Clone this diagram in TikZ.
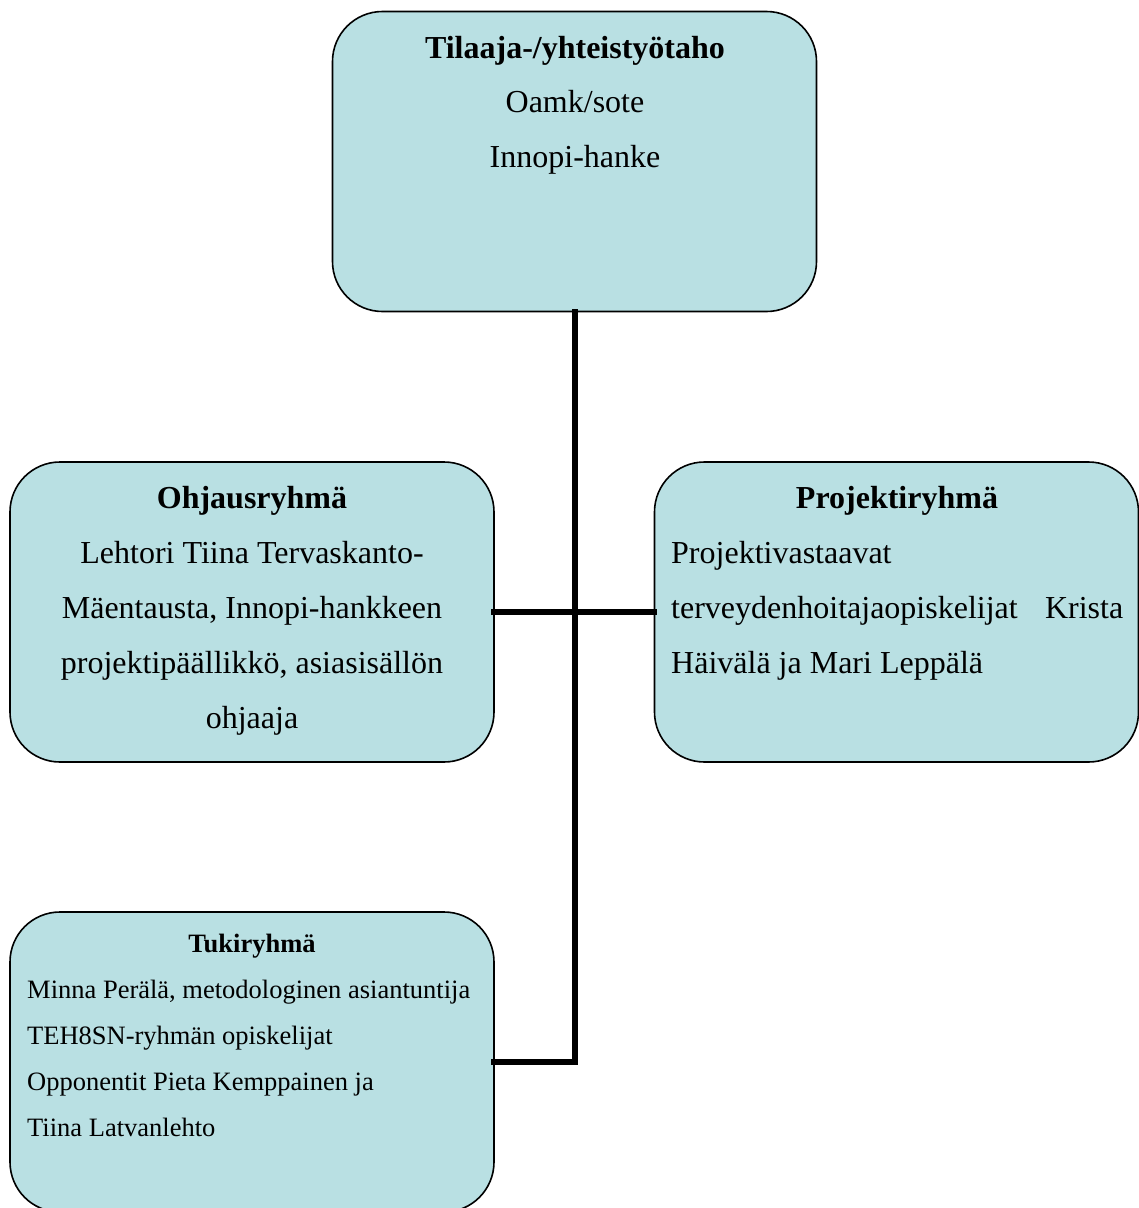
\documentclass[tikz,border=0pt]{standalone}
\usepackage{fontspec}
\setmainfont{Liberation Serif}
\definecolor{boxfill}{RGB}{185,224,227}
\begin{document}
\begin{tikzpicture}[x=1pt,y=-1pt,
  grp/.style={draw=black,line width=1.6pt,fill=boxfill,rounded corners=50pt,
    minimum width=484pt,minimum height=300pt,inner sep=0pt,outer sep=0pt},
  conn/.style={line width=5.2pt,line cap=rect},
  big/.style={inner sep=0pt,font=\fontsize{32}{32}\selectfont},
  bigb/.style={inner sep=0pt,font=\fontsize{32}{32}\selectfont\bfseries},
  small/.style={inner sep=0pt,font=\fontsize{26.5}{26.5}\selectfont},
  smallb/.style={inner sep=0pt,font=\fontsize{26.5}{26.5}\selectfont\bfseries}]
\useasboundingbox (0,0) rectangle (1139,1208);
\begin{scope}
\clip (0,0) rectangle (1139,1208);
% boxes
\node[grp] (top) at (574.5,161.5) {};
\node[grp] (left) at (252,612) {};
\node[grp] (right) at (896.5,612) {};
\node[grp] (bottom) at (252,1062) {};
\coordinate (j) at (575,1062);
% connectors
\draw[conn] (top.south -| j) -- (j);
\draw[conn] (left.east) -- (right.west);
\draw[conn] (bottom.east) -- (j);
% top texts
\node[bigb,anchor=base] (t1) at (575,58) {Tilaaja-/yhteistyötaho};
\node[big,anchor=base] (t2) at (575,112) {Oamk/sote};
\node[big,anchor=base] (t3) at (575,167) {Innopi-hanke};
% left texts
\node[bigb,anchor=base] (l1) at (252,508) {Ohjausryhmä};
\node[big,anchor=base] (l2) at (252,563) {Lehtori Tiina Tervaskanto-};
\node[big,anchor=base] (l3) at (252,618) {Mäentausta, Innopi-hankkeen};
\node[big,anchor=base] (l4) at (252,673) {projektipäällikkö, asiasisällön};
\node[big,anchor=base] (l5) at (252,728) {ohjaaja};
% right texts
\node[bigb,anchor=base] (r1) at (897,508) {Projektiryhmä};
\node[big,anchor=base west] (r2) at (671,563) {Projektivastaavat};
\node[big,anchor=base west] (r3) at (671,618) {\hbox to 452pt{terveydenhoitajaopiskelijat\hfill Krista}};
\node[big,anchor=base west] (r4) at (671,673) {Häivälä ja Mari Leppälä};
% bottom texts
\node[smallb,anchor=base] (b1) at (252,952) {Tukiryhmä};
\node[small,anchor=base west] (b2) at (27,998) {Minna Perälä, metodologinen asiantuntija};
\node[small,anchor=base west] (b3) at (27,1044) {TEH8SN-ryhmän opiskelijat};
\node[small,anchor=base west] (b4) at (27,1090) {Opponentit Pieta Kemppainen ja};
\node[small,anchor=base west] (b5) at (27,1136) {Tiina Latvanlehto};
\end{scope}
\end{tikzpicture}
\end{document}
